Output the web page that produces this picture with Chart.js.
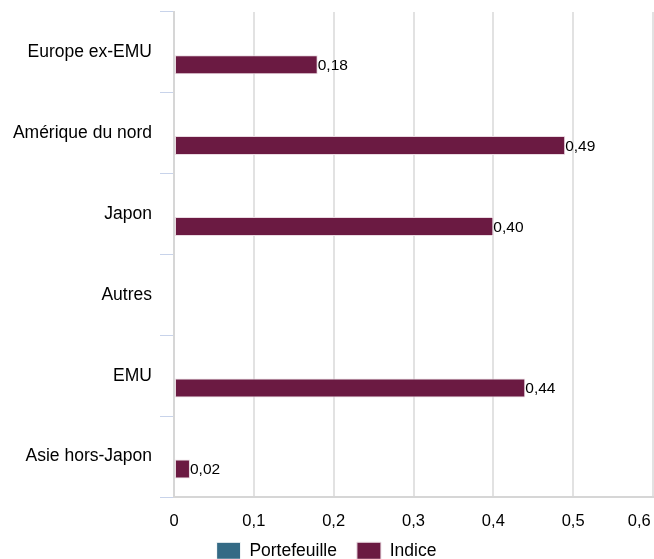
<!DOCTYPE html>
<html>
<head>
<meta charset="utf-8">
<script src="https://cdn.jsdelivr.net/npm/chart.js@4/dist/chart.umd.min.js"></script>
<style>
  html, body { margin: 0; padding: 0; background: #fff; }
  #wrap { width: 654px; height: 559px; }
</style>
</head>
<body>
<div id="wrap"><canvas id="grafica"></canvas></div>
<script>
const regiones = ['Europe ex-EMU', 'Amérique du nord', 'Japon', 'Autres', 'EMU', 'Asie hors-Japon'];
const portefeuille = [null, null, null, null, null, null];
const indice = [0.18, 0.49, 0.40, null, 0.44, 0.02];
const ticksX = [0, 0.1, 0.2, 0.3, 0.4, 0.5, 0.6];

const FUENTE = "'Liberation Sans', Arial, Helvetica, sans-serif";

// etiquetas de valor al final de cada barra
const etiquetasBarras = {
    id: 'etiquetasBarras',
    afterLayout(chart) {
        // que las etiquetas del eje x no se recorten
        chart.scales.x.bottom = chart.height;
    },
    afterDatasetsDraw(chart) {
        const ctx = chart.ctx;
        ctx.save();
        ctx.font = '15.5px ' + FUENTE;
        ctx.fillStyle = '#000';
        ctx.textBaseline = 'middle';
        ctx.textAlign = 'left';
        chart.data.datasets.forEach((ds, i) => {
            const meta = chart.getDatasetMeta(i);
            meta.data.forEach((bar, j) => {
                const v = ds.data[j];
                if (v === null || v === undefined) return;
                ctx.fillText(v.toFixed(2).replace('.', ','), bar.x, bar.y + 1);
            });
        });
        ctx.restore();
    }
};

new Chart(document.getElementById('grafica').getContext('2d'), {
    type: 'bar',
    data: {
        labels: regiones,
        datasets: [
            { label: 'Portefeuille', data: portefeuille, backgroundColor: '#346a85', borderColor: '#ffffff', borderWidth: 1,
              categoryPercentage: 0.61, barPercentage: 0.77 },
            { label: 'Indice', data: indice, backgroundColor: '#6b1a42', borderColor: '#eadbe2', borderWidth: 1, borderSkipped: false,
              categoryPercentage: 0.61, barPercentage: 0.77 }
        ]
    },
    options: {
        indexAxis: 'y',
        responsive: true,
        maintainAspectRatio: false,
        animation: false,
        layout: { padding: { top: 12, right: 1, left: 0, bottom: -10.5 } },
        scales: {
            x: {
                min: 0, max: 0.6,
                afterBuildTicks: s => { s.ticks = ticksX.map(v => ({ value: v })); },
                afterFit: s => { s.paddingRight = 0; s.paddingLeft = 0; s.height = 25; },
                grid: { color: '#e2e2e2', lineWidth: 2, drawTicks: false },
                border: { color: '#d6d6d6', width: 2 },
                ticks: {
                    padding: 15,
                    color: '#000',
                    font: { family: FUENTE, size: 16.5 },
                    // la última etiqueta queda dentro del lienzo
                    callback: (v, i) => String(v).replace('.', ',') + (i === ticksX.length - 1 ? '      ' : '')
                }
            },
            y: {
                afterFit: s => { s.width = 174; s.paddingTop = 0; s.paddingBottom = 0; },
                grid: { offset: true, drawOnChartArea: false, tickLength: 14, color: '#c8d3ea' },
                border: { color: '#d6d6d6', width: 2 },
                ticks: {
                    padding: 8,
                    color: '#000',
                    font: { family: FUENTE, size: 17.5 }
                }
            }
        },
        plugins: {
            legend: {
                position: 'bottom',
                labels: {
                    color: '#000',
                    boxWidth: 24,
                    boxHeight: 17,
                    padding: 20,
                    font: { family: FUENTE, size: 17.5 }
                }
            },
            tooltip: { enabled: false }
        }
    },
    plugins: [etiquetasBarras]
});
</script>
</body>
</html>
